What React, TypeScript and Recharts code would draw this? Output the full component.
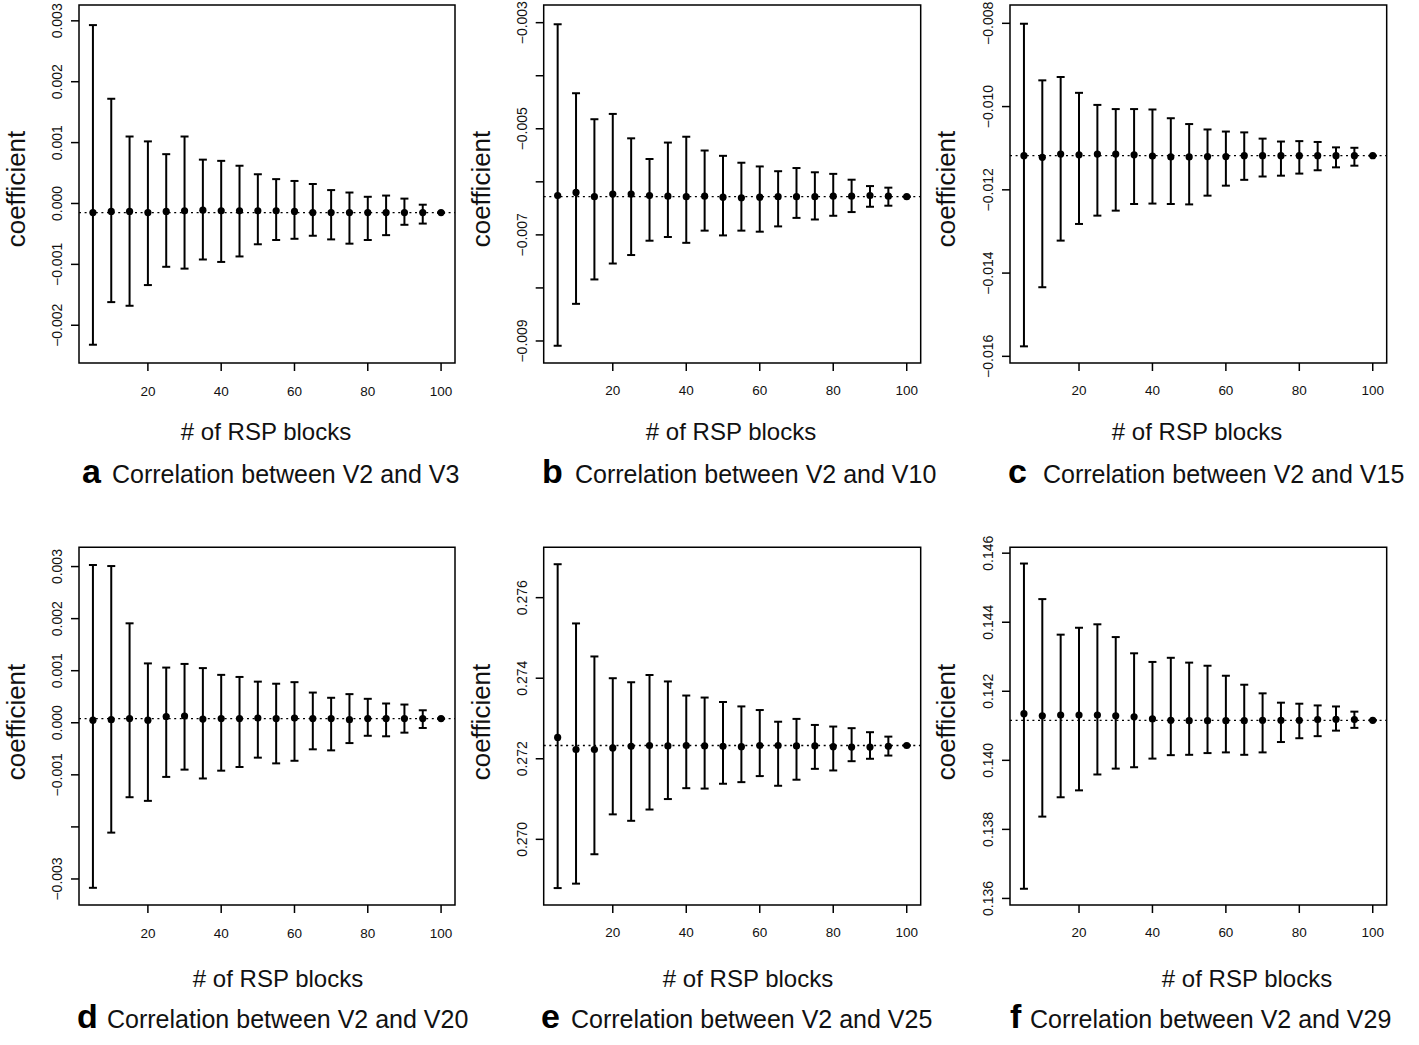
import React from "react";
import { ComposedChart, Scatter, ErrorBar, XAxis, YAxis, ReferenceLine, ReferenceArea } from "recharts";

const FONT = '"Liberation Sans", Arial, Helvetica, sans-serif';

// x positions: number of RSP blocks
const blocks = [5, 10, 15, 20, 25, 30, 35, 40, 45, 50, 55, 60, 65, 70, 75, 80, 85, 90, 95, 100];
const xTicks = [20, 40, 60, 80, 100];
const X_DOMAIN: [number, number] = [1.2, 103.8];

// a: V2 vs V3
const estA = [-0.00015, -0.00013, -0.00013, -0.00015, -0.00013, -0.00012, -0.00011, -0.00012, -0.00012, -0.00012, -0.00012, -0.00013, -0.00015, -0.00015, -0.00015, -0.00015, -0.00015, -0.00015, -0.00015, -0.00015];
const upA = [0.00293, 0.00172, 0.0011, 0.00102, 0.00081, 0.0011, 0.00072, 0.0007, 0.00062, 0.00048, 0.0004, 0.00037, 0.00032, 0.00022, 0.00018, 0.00011, 0.00013, 0.00008, -0.00002, -0.00015];
const loA = [-0.00232, -0.00162, -0.00168, -0.00134, -0.00104, -0.00107, -0.00092, -0.00096, -0.00087, -0.00067, -0.0006, -0.00058, -0.00053, -0.00059, -0.00066, -0.0006, -0.00052, -0.00035, -0.00033, -0.00015];
const refA = -0.00015;
const yTicksA = [-0.002, -0.001, 0, 0.001, 0.002, 0.003];

// b: V2 vs V10
const estB = [-0.00626, -0.0062, -0.00628, -0.00623, -0.00623, -0.00626, -0.00627, -0.00628, -0.00627, -0.00629, -0.0063, -0.00629, -0.00628, -0.00628, -0.00628, -0.00627, -0.00627, -0.00626, -0.00627, -0.00628];
const upB = [-0.00303, -0.00433, -0.00482, -0.00472, -0.00518, -0.00557, -0.00526, -0.00515, -0.00541, -0.00551, -0.00564, -0.00571, -0.0058, -0.00574, -0.00582, -0.00585, -0.00596, -0.00608, -0.00611, -0.00628];
const loB = [-0.00909, -0.0083, -0.00784, -0.00754, -0.00738, -0.00711, -0.00704, -0.00715, -0.00692, -0.00701, -0.00692, -0.00694, -0.00684, -0.00668, -0.00671, -0.00664, -0.00657, -0.00647, -0.00645, -0.00628];
const refB = -0.00628;
const yTicksB = [-0.009, -0.008, -0.007, -0.006, -0.005, -0.004, -0.003];
const yLabelsB = [-0.009, -0.007, -0.005, -0.003];

// c: V2 vs V15
const estC = [-0.01118, -0.01122, -0.01114, -0.01116, -0.01114, -0.01114, -0.01116, -0.01119, -0.01121, -0.01121, -0.0112, -0.0112, -0.01118, -0.01118, -0.01118, -0.01118, -0.01118, -0.01118, -0.01118, -0.01118];
const upC = [-0.00801, -0.00937, -0.00929, -0.00967, -0.00996, -0.01006, -0.01006, -0.01007, -0.01028, -0.01042, -0.01055, -0.0106, -0.01062, -0.01077, -0.01084, -0.01083, -0.01085, -0.01098, -0.01099, -0.01118];
const loC = [-0.01576, -0.01434, -0.01322, -0.01282, -0.01262, -0.0125, -0.01234, -0.01233, -0.01234, -0.01235, -0.01214, -0.0119, -0.01176, -0.01168, -0.01166, -0.01161, -0.01153, -0.01146, -0.01142, -0.01118];
const refC = -0.01118;
const yTicksC = [-0.016, -0.014, -0.012, -0.01, -0.008];

// d: V2 vs V20
const estD = [0.00005, 0.00006, 0.00008, 0.00005, 0.00012, 0.00013, 0.00007, 0.00008, 0.00008, 0.00009, 0.00008, 0.00009, 0.00008, 0.00008, 0.00006, 0.00008, 0.00008, 0.00008, 0.00008, 0.00008];
const upD = [0.00303, 0.00301, 0.00191, 0.00114, 0.00106, 0.00113, 0.00105, 0.00092, 0.00088, 0.00079, 0.00075, 0.00078, 0.00058, 0.00048, 0.00055, 0.00046, 0.00037, 0.00035, 0.00024, 0.00008];
const loD = [-0.00317, -0.00211, -0.00143, -0.0015, -0.00104, -0.0009, -0.00107, -0.00092, -0.00085, -0.00067, -0.00078, -0.00073, -0.00051, -0.00053, -0.00039, -0.00025, -0.00026, -0.00019, -0.0001, 0.00008];
const refD = 0.00008;
const yTicksD = [-0.003, -0.002, -0.001, 0, 0.001, 0.002, 0.003];
const yLabelsD = [-0.003, -0.001, 0, 0.001, 0.002, 0.003];

// e: V2 vs V25
const estE = [0.27253, 0.27223, 0.27223, 0.27227, 0.27231, 0.27233, 0.27232, 0.27233, 0.27232, 0.27231, 0.2723, 0.27233, 0.27233, 0.27232, 0.27232, 0.2723, 0.27229, 0.27229, 0.27231, 0.27233];
const upE = [0.27683, 0.27536, 0.27454, 0.274, 0.2739, 0.27408, 0.27392, 0.27357, 0.27352, 0.27341, 0.2733, 0.27321, 0.27292, 0.27299, 0.27284, 0.2728, 0.27276, 0.27266, 0.27255, 0.27233];
const loE = [0.26879, 0.2689, 0.26963, 0.27062, 0.27046, 0.27074, 0.271, 0.27127, 0.27126, 0.27138, 0.27142, 0.27157, 0.27133, 0.27148, 0.27175, 0.27171, 0.27194, 0.272, 0.27208, 0.27233];
const refE = 0.27233;
const yTicksE = [0.27, 0.272, 0.274, 0.276];

// f: V2 vs V29
const estF = [0.14135, 0.14129, 0.14131, 0.14131, 0.14131, 0.14129, 0.14126, 0.1412, 0.14116, 0.14115, 0.14115, 0.14115, 0.14115, 0.14116, 0.14116, 0.14116, 0.14118, 0.14119, 0.14118, 0.14116];
const upF = [0.1457, 0.14467, 0.14364, 0.14384, 0.14394, 0.14357, 0.1431, 0.14285, 0.14297, 0.14283, 0.14274, 0.14245, 0.14219, 0.14194, 0.14167, 0.14164, 0.14159, 0.14156, 0.14141, 0.14116];
const loF = [0.13628, 0.13837, 0.13893, 0.13913, 0.13959, 0.13976, 0.1398, 0.14005, 0.14015, 0.14016, 0.14021, 0.14023, 0.14016, 0.14023, 0.14053, 0.14064, 0.1407, 0.14086, 0.14094, 0.14116];
const refF = 0.14116;
const yTicksF = [0.136, 0.138, 0.14, 0.142, 0.144, 0.146];

const captions = ["Correlation between V2 and V3", "Correlation between V2 and V10", "Correlation between V2 and V15", "Correlation between V2 and V20", "Correlation between V2 and V25", "Correlation between V2 and V29"];
const letters = ["a", "b", "c", "d", "e", "f"];

const cols = [
  { left: 0, axisW: 79, plotW: 376 },
  { left: 465, axisW: 78.7, plotW: 377 },
  { left: 930, axisW: 80, plotW: 376.7 },
];
const rowsLayout = [
  { top: 0, mt: 5, plotH: 358 },
  { top: 520, mt: 27.3, plotH: 357.7 },
];

function buildRows(est: number[], up: number[], lo: number[]) {
  return blocks.map((b, i) => ({ x: b, y: est[i], err: [est[i] - lo[i], up[i] - est[i]] }));
}

const fmt = (v: number) => {
  const s = Math.abs(v).toFixed(3);
  return v < -1e-12 ? "\u2212" + s : s;
};

type PanelProps = {
  col: number;
  row: number;
  rows: { x: number; y: number; err: number[] }[];
  yDomain: [number, number];
  yTicks: number[];
  yLabels?: number[];
  refY: number;
};

function Panel({ col, row, rows, yDomain, yTicks, yLabels, refY }: PanelProps) {
  const c = cols[col];
  const r = rowsLayout[row];
  const xh = 40;
  const width = c.axisW + c.plotW + 10;
  const height = r.mt + r.plotH + xh;
  const showLabel = (v: number) => !yLabels || yLabels.some((l) => Math.abs(l - v) < 1e-9);
  return (
    <div style={{ position: "absolute", left: c.left, top: r.top }}>
      <ComposedChart width={width} height={height} data={rows} margin={{ top: r.mt, right: 10, bottom: 0, left: 0 }}>
        <XAxis
          type="number"
          dataKey="x"
          domain={X_DOMAIN}
          ticks={xTicks}
          allowDataOverflow
          interval={0}
          height={xh}
          axisLine={false}
          tickLine={{ stroke: "#000", strokeWidth: 1.5 }}
          tickSize={8}
          tickMargin={2}
          tick={(p: any) => (
            <text x={p.x} y={p.y + 18} textAnchor="middle" dominantBaseline="central" fontSize={13.5} fill="#111" fontFamily={FONT}>
              {p.payload.value}
            </text>
          )}
        />
        <YAxis
          type="number"
          domain={yDomain}
          ticks={yTicks}
          allowDataOverflow
          interval={0}
          width={c.axisW}
          axisLine={false}
          tickLine={{ stroke: "#000", strokeWidth: 1.5 }}
          tickSize={8}
          tickMargin={2}
          tick={(p: any) =>
            showLabel(p.payload.value) ? (
              <text
                x={p.x - 12}
                y={p.y}
                transform={`rotate(-90 ${p.x - 12} ${p.y})`}
                textAnchor="middle"
                dominantBaseline="central"
                fontSize={14}
                fill="#111"
                fontFamily={FONT}
              >
                {fmt(p.payload.value)}
              </text>
            ) : (
              <g />
            )
          }
        />
        <ReferenceArea x1={X_DOMAIN[0]} x2={X_DOMAIN[1]} y1={yDomain[0]} y2={yDomain[1]} fill="none" stroke="#000" strokeWidth={1.5} ifOverflow="visible" />
        <ReferenceLine y={refY} stroke="#000" strokeWidth={1.3} strokeDasharray="2 3.6" />
        <Scatter
          dataKey="y"
          isAnimationActive={false}
          shape={(p: any) => <circle cx={p.cx} cy={p.cy} r={3.6} fill="#000" />}
        >
          <ErrorBar dataKey="err" direction="y" width={4} strokeWidth={2} stroke="#000" isAnimationActive={false} />
        </Scatter>
      </ComposedChart>
    </div>
  );
}

const ylabX = [16, 481, 946];
const ylabY = [189, 722];
const xlabX = [266, 731, 1197, 278, 748, 1247];
const xlabBase = [440, 987];
const capLetterX = [82, 542, 1008, 77, 541, 1010];
const capTextX = [112, 575, 1043, 107, 571, 1030];
const capBase = [483, 1028];

export default function App() {
  return (
    <div style={{ position: "absolute", left: 0, top: 0, width: 1419, height: 1045, background: "#fff", fontFamily: FONT }}>
      <Panel col={0} row={0} rows={buildRows(estA, upA, loA)} yDomain={[-0.00262, 0.00326]} yTicks={yTicksA} refY={refA} />
      <Panel col={1} row={0} rows={buildRows(estB, upB, loB)} yDomain={[-0.009415, -0.002667]} yTicks={yTicksB} yLabels={yLabelsB} refY={refB} />
      <Panel col={2} row={0} rows={buildRows(estC, upC, loC)} yDomain={[-0.01616, -0.00756]} yTicks={yTicksC} refY={refC} />
      <Panel col={0} row={1} rows={buildRows(estD, upD, loD)} yDomain={[-0.0035, 0.00337]} yTicks={yTicksD} yLabels={yLabelsD} refY={refD} />
      <Panel col={1} row={1} rows={buildRows(estE, upE, loE)} yDomain={[0.26837, 0.27725]} yTicks={yTicksE} refY={refE} />
      <Panel col={2} row={1} rows={buildRows(estF, upF, loF)} yDomain={[0.13581, 0.14617]} yTicks={yTicksF} refY={refF} />
      <svg width={1419} height={1045} style={{ position: "absolute", left: 0, top: 0, pointerEvents: "none" }}>
        {letters.map((l, i) => {
          const row = i < 3 ? 0 : 1;
          const col = i % 3;
          return (
            <g key={l} fontFamily={FONT} fill="#111">
              <text
                x={ylabX[col]}
                y={ylabY[row]}
                transform={`rotate(-90 ${ylabX[col]} ${ylabY[row]})`}
                textAnchor="middle"
                dominantBaseline="central"
                fontSize={26}
              >
                coefficient
              </text>
              <text x={xlabX[i]} y={xlabBase[row]} textAnchor="middle" fontSize={24}>
                # of RSP blocks
              </text>
              <text x={capLetterX[i]} y={capBase[row]} fontSize={34} fontWeight="bold" fill="#000">
                {l}
              </text>
              <text x={capTextX[i]} y={capBase[row]} fontSize={25}>
                {captions[i]}
              </text>
            </g>
          );
        })}
      </svg>
    </div>
  );
}
